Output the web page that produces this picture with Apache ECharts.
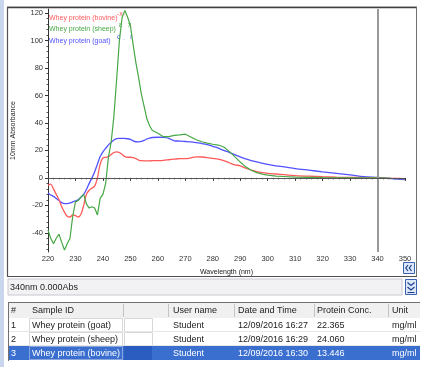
<!DOCTYPE html>
<html><head><meta charset="utf-8">
<script src="https://cdn.jsdelivr.net/npm/echarts@6/dist/echarts.min.js"></script>
<style>html,body{margin:0;padding:0;background:#fff;}#c{width:424px;height:367px;}</style>
</head><body><div id="c"></div>
<script>
// ---- data ----
const wavelengths = [220,221,222,223,224,225,226,227,228,229,230,231,232,233,234,235,236,237,238,239,240,241,242,243,244,245,246,247,248,249,250,251,252,253,254,255,256,257,258,
  260,262,264,266,268,270,272,274,276,278,280,282,284,286,288,290,292,294,296,298,300,
  303,306,310,315,320,325,330,335,340,345,350];
const bovine = [-5.5,-4.5,-8,-12,-16,-21,-25,-28,-28.5,-27,-27.5,-28.5,-26.5,-20,-12,-9,-7.5,-6,0,10,14.5,15,15.5,17,18.5,19,18.5,17,15.5,15,15,14.8,14,13,12.5,12.4,12.4,12.4,12.5,
  12.6,12.8,13.2,13.6,14,14,14.5,15.3,15.2,14.8,14.2,13.6,12.6,11,9.5,8.8,7,5.7,4.6,3.8,3.3,
  2.8,2.3,1.7,1.2,0.8,0.5,0.3,0.2,0,-0.3,-0.5];
const sheep = [-38,-44,-48,-44,-41,-47,-52.5,-48,-44,-28,-17.5,-16.5,-14,-12,-19,-22,-21,-22,-27,-15,-12,-4,15,26,45,72,100,117,122,117,111,97,84,73,61,52,43,38,34.5,
  32.5,30,30,31,31.3,31.8,29.8,27.8,26.3,25.3,24.5,23.9,22.5,19.3,15.5,11.5,8,5.6,3.8,2.7,2,
  1.3,1,0.6,0.4,0.2,0.1,0,0,0,-0.3,-0.5];
const goat = [-11,-12.5,-13.5,-15,-16.5,-18,-18.7,-18.7,-18.3,-17.5,-16.8,-16,-14,-12,-8.5,-4,0,4.5,10,15.5,19,21.5,24,26,27.6,28.6,28.8,28.8,28.7,28.5,28,27,26.3,26.2,26.5,27.3,28.3,29,29.4,
  29.6,29.5,28.8,27,26.8,26.5,26.2,25.6,25,24.2,23,21.7,20,18.6,17,15.3,13.8,12.6,11.6,10.7,9.8,
  8.8,8,6.8,5.6,4.4,3.3,2.2,0.9,0.3,-0.5,-1.3];
const seriesNames = ['Whey protein (bovine)','Whey protein (sheep)','Whey protein (goat)'];
const seriesColors = ['#ff5a5a','#46a846','#5252ff'];
const yTickLabels = [-40,-20,0,20,40,60,80,100,120];
const cursorWavelength = 340;
const cursorText = '340nm 0.000Abs';
const tableHeaders = ['#','Sample ID','','User name','Date and Time','Protein Conc.','Unit'];
const rowIds = ['1','2','3'];
const sampleIds = ['Whey protein (goat)','Whey protein (sheep)','Whey protein (bovine)'];
const userNames = ['Student','Student','Student'];
const dateTimes = ['12/09/2016 16:27','12/09/2016 16:29','12/09/2016 16:30'];
const proteinConc = ['22.365','24.060','13.446'];
const units = ['mg/ml','mg/ml','mg/ml'];

// ---- build ----
const FONT = 'Liberation Sans, Arial, sans-serif';
const pairs = vals => wavelengths.map((w,i)=>[w, vals[i]]);
const minorY = [];
for (let v=-52; v<=122; v+=4) if (v%20!==0) minorY.push(v);

const chart = echarts.init(document.getElementById('c'), null, {renderer:'canvas'});

const g = [];
g.push({type:'rect', shape:{x:0,y:0,width:4,height:367}, style:{fill:'#c9d6ee'}, z:1});
g.push({type:'line', shape:{x1:7,y1:6.5,x2:417,y2:6.5}, style:{stroke:'#d0d0d0',lineWidth:1}});
g.push({type:'line', shape:{x1:7,y1:7.5,x2:417,y2:7.5}, style:{stroke:'#404040',lineWidth:1.5}});
g.push({type:'line', shape:{x1:7.5,y1:7,x2:7.5,y2:276}, style:{stroke:'#505050',lineWidth:1.2}});
g.push({type:'line', shape:{x1:416.5,y1:7,x2:416.5,y2:276}, style:{stroke:'#707070',lineWidth:1}});
g.push({type:'line', shape:{x1:7,y1:276.5,x2:417,y2:276.5}, style:{stroke:'#505050',lineWidth:1.2}});
g.push({type:'rect', shape:{x:403.5,y:262.5,width:11,height:11}, style:{fill:'#dce8fa',stroke:'#3a62b0',lineWidth:1}});
g.push({type:'polyline', shape:{points:[[408,265],[405.8,268],[408,271]]}, style:{stroke:'#1d3f8e',lineWidth:1.2,fill:null}});
g.push({type:'polyline', shape:{points:[[411.5,265],[409.3,268],[411.5,271]]}, style:{stroke:'#1d3f8e',lineWidth:1.2,fill:null}});
g.push({type:'text', style:{x:117,y:14,text:'-x-',fill:'#ff5a5a',font:'7px '+FONT,verticalAlign:'middle'}});
g.push({type:'text', style:{x:119,y:25.5,text:'ε',fill:'#46a846',font:'7px '+FONT,verticalAlign:'middle'}});
g.push({type:'text', style:{x:128,y:25.5,text:'x',fill:'#46a846',font:'7px '+FONT,verticalAlign:'middle'}});
g.push({type:'text', style:{x:117,y:37,text:'c',fill:'#5252ff',font:'7px '+FONT,verticalAlign:'middle'}});
g.push({type:'text', style:{x:123,y:38,text:'.',fill:'#8888ff',font:'7px '+FONT,verticalAlign:'middle'}});
g.push({type:'text', style:{x:130,y:37,text:'ı',fill:'#5252ff',font:'7px '+FONT,verticalAlign:'middle'}});
g.push({type:'rect', shape:{x:8,y:279,width:394,height:16}, style:{fill:'#f2f2f5',stroke:'#c8c8d0',lineWidth:1}});
g.push({type:'text', style:{x:10,y:287.5,text:cursorText,fill:'#222',font:'9px '+FONT,verticalAlign:'middle'}});
g.push({type:'rect', shape:{x:405.5,y:279.5,width:11,height:15}, style:{fill:'#dce8fa',stroke:'#3a62b0',lineWidth:1}});
g.push({type:'polyline', shape:{points:[[407.5,282.5],[411,285.5],[414.5,282.5]]}, style:{stroke:'#1d3f8e',lineWidth:1.2,fill:null}});
g.push({type:'polyline', shape:{points:[[407.5,287],[411,290],[414.5,287]]}, style:{stroke:'#1d3f8e',lineWidth:1.2,fill:null}});
g.push({type:'line', shape:{x1:407.5,y1:292.5,x2:414.5,y2:292.5}, style:{stroke:'#1d3f8e',lineWidth:1}});
const colSep = [8,27,123,168,234,314,388,420];
const colText = [11,32,126,173,238,317,392];
const headTop = 302, rowH = 14, headH = 16;
g.push({type:'rect', shape:{x:8,y:headTop,width:412,height:headH}, style:{fill:'#f0f0f0'}});
g.push({type:'line', shape:{x1:8,y1:headTop+0.5,x2:420,y2:headTop+0.5}, style:{stroke:'#707070',lineWidth:1}});
g.push({type:'line', shape:{x1:8.5,y1:headTop,x2:8.5,y2:361}, style:{stroke:'#707070',lineWidth:1}});
for (let c=2;c<colSep.length-1;c++) g.push({type:'line', shape:{x1:colSep[c]+0.5,y1:headTop+2,x2:colSep[c]+0.5,y2:headTop+headH-1}, style:{stroke:'#c4c4c4',lineWidth:1}});
tableHeaders.forEach((h,i)=>{ if(h) g.push({type:'text', style:{x:colText[i],y:headTop+headH/2+1,text:h,fill:'#222',font:'9px '+FONT,verticalAlign:'middle'}}); });
const rows = rowIds.map((id,r)=>[id, sampleIds[r], '', userNames[r], dateTimes[r], proteinConc[r], units[r]]);
rows.forEach((row,r)=>{
  const y0 = headTop+headH+r*rowH;
  const sel = r===rows.length-1;
  if (sel) {
    g.push({type:'rect', shape:{x:9,y:y0,width:411,height:rowH}, style:{fill:'#3a6fd0'}});
    g.push({type:'rect', shape:{x:124,y:y0,width:28,height:rowH}, style:{fill:'#2b5cc0'}});
    g.push({type:'rect', shape:{x:29.5,y:y0+0.5,width:93,height:rowH-1}, style:{fill:null,stroke:'#8aa6dc',lineWidth:1}});
  } else {
    g.push({type:'rect', shape:{x:29.5,y:y0+0.5,width:93,height:rowH-1}, style:{fill:'#fff',stroke:'#d8d8d8',lineWidth:1}});
    g.push({type:'rect', shape:{x:124.5,y:y0+0.5,width:28,height:rowH-1}, style:{fill:'#fff',stroke:'#d8d8d8',lineWidth:1}});
    g.push({type:'line', shape:{x1:9,y1:y0+rowH-0.5,x2:420,y2:y0+rowH-0.5}, style:{stroke:'#e6e6e6',lineWidth:1}});
  }
  row.forEach((t,i)=>{ if(t) g.push({type:'text', style:{x:colText[i],y:y0+rowH/2+0.5,text:t,fill: sel?'#ffffff':'#222',font:'9px '+FONT,verticalAlign:'middle'}}); });
});

const option = {
  animation:false,
  backgroundColor:'#ffffff',
  textStyle:{fontFamily:FONT},
  grid:{left:48,right:19,top:9,bottom:115,containLabel:false},
  legend:{
    show:true, orient:'vertical', left:39, top:9, itemWidth:0, itemHeight:8, itemGap:3.5,
    icon:'rect', selectedMode:false,
    data: seriesNames.map((n,i)=>({name:n, textStyle:{color:seriesColors[i]}})),
    textStyle:{fontSize:7, fontFamily:FONT, padding:0}
  },
  xAxis:{
    type:'value', min:220, max:350, interval:10,
    name:'Wavelength (nm)', nameLocation:'middle', nameGap:17,
    nameTextStyle:{fontSize:7,color:'#222'},
    axisLine:{lineStyle:{color:'#333',width:1}},
    axisTick:{show:true,length:3,lineStyle:{color:'#333'}},
    minorTick:{show:true,splitNumber:5,length:1.5,lineStyle:{color:'#555'}},
    axisLabel:{fontSize:7.5,color:'#333',margin:3},
    splitLine:{show:false}
  },
  yAxis:[{
    type:'value', min:-54, max:123,
    name:'10mm Absorbance', nameLocation:'middle', nameGap:31, nameRotate:90,
    nameTextStyle:{fontSize:7,color:'#222'},
    axisLine:{show:true,lineStyle:{color:'#333',width:1}},
    axisTick:{show:true,length:3,customValues:yTickLabels,lineStyle:{color:'#333'}},
    axisLabel:{fontSize:7.5,color:'#333',margin:5,customValues:yTickLabels},
    splitLine:{show:false}
  },{
    type:'value', min:-54, max:123, position:'left',
    axisLine:{show:false},
    axisTick:{show:true,length:1.5,customValues:minorY,lineStyle:{color:'#555'}},
    axisLabel:{show:false},
    splitLine:{show:false}
  }],
  series:[
    {name:seriesNames[2], type:'line', data:pairs(goat), showSymbol:false, smooth:0.3,
     lineStyle:{color:seriesColors[2],width:1.3}, itemStyle:{color:seriesColors[2]}, z:2,
     markLine:{silent:true, symbol:'none', label:{show:false},
       data:[{xAxis:cursorWavelength, lineStyle:{color:'#999',width:2,type:'solid'}},
             {yAxis:0, lineStyle:{color:'#555',width:1,type:'solid'}}]}},
    {name:seriesNames[0], type:'line', data:pairs(bovine), showSymbol:false, smooth:0.3,
     lineStyle:{color:seriesColors[0],width:1.3}, itemStyle:{color:seriesColors[0]}, z:3},
    {name:seriesNames[1], type:'line', data:pairs(sheep), showSymbol:false,
     lineStyle:{color:seriesColors[1],width:1.2}, itemStyle:{color:seriesColors[1]}, z:4}
  ],
  graphic:{elements:g}
};
chart.setOption(option);
</script></body></html>
